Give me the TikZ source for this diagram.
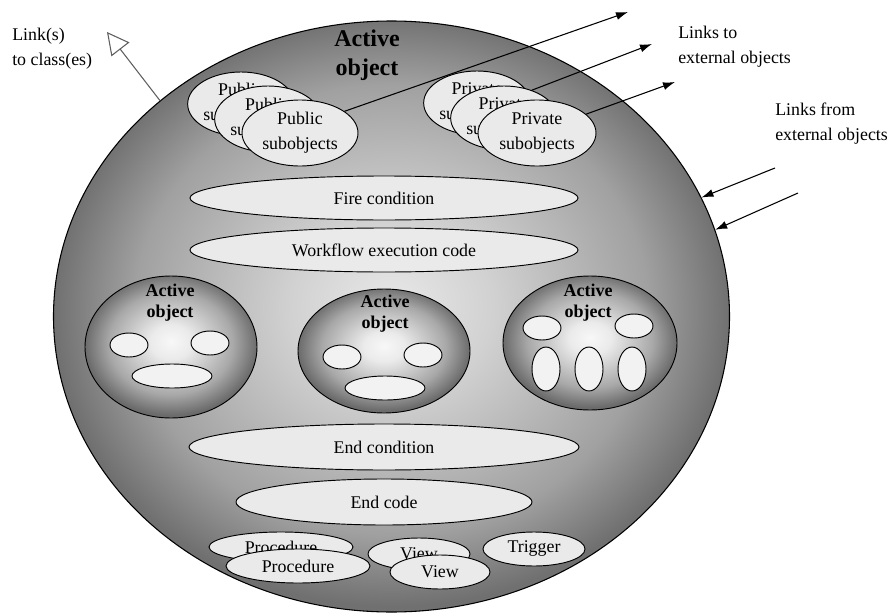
\documentclass[tikz,border=0pt]{standalone}
\usepackage{fontspec}
\setmainfont{Liberation Serif}
\usetikzlibrary{shapes.geometric,arrows.meta}

\definecolor{blobfill}{RGB}{234,234,234}
\definecolor{spotfill}{RGB}{242,242,242}
\definecolor{linkgray}{RGB}{95,95,95}

\pgfdeclareradialshading{outerglow}{\pgfpoint{0bp}{1bp}}{color(0bp)=(black!9); color(7.5bp)=(black!18); color(19bp)=(black!37); color(25bp)=(black!56); color(50bp)=(black!56)}
\pgfdeclareradialshading{innerglow}{\pgfpoint{0bp}{2bp}}{color(0bp)=(black!3); color(6bp)=(black!8); color(18bp)=(black!34); color(25bp)=(black!58); color(50bp)=(black!58)}

\tikzset{
  wx/.style={minimum width=#1*1.5pt},
  wy/.style={minimum height=#1*1.5pt},
  blob/.style={draw, ellipse, fill=blobfill, line width=0.7pt, inner sep=0pt, align=center},
  spot/.style={draw, ellipse, fill=spotfill, line width=0.7pt, inner sep=0pt},
  actobj/.style={draw, ellipse, shading=innerglow, line width=0.7pt, inner sep=0pt},
  acttitle/.style={font=\rmfamily\fontsize{13.5}{15.75}\selectfont\bfseries, align=center, inner sep=0pt},
  lbl/.style={align=left, inner sep=0pt},
  extlink/.style={line width=0.8pt, -{Latex[length=9pt,width=6pt]}},
  classlink/.style={draw=linkgray, line width=0.8pt, -{Triangle[length=16.5pt,width=17pt,fill=white]}}
}

\begin{document}
\begin{tikzpicture}[x=0.75pt,y=0.75pt,yscale=-1,xscale=1,font=\rmfamily\fontsize{13.4}{18.75}\selectfont]
\useasboundingbox (0,0) rectangle (896,614);

%Shape: Ellipse [outer active object]
\node[draw, ellipse, shading=outerglow, line width=0.8pt, inner sep=0pt, wx=338, wy=295.5] (big) at (391.5,316.5) {};
% Text Node
\node[font=\rmfamily\fontsize{18}{21.75}\selectfont\bfseries, align=center, inner sep=0pt] (title) at (367,55) {Active\\object};

%Shape: Ellipse [public subobjects]
\node[blob, wx=53, wy=32] (pubA) at (241,104) {Public\\subobjects};
\node[blob, wx=53, wy=33] (pubB) at (268,119) {Public\\subobjects};
\node[blob, wx=58, wy=33] (pubC) at (300,133) {Public\\subobjects};
%Shape: Ellipse [private subobjects]
\node[blob, wx=52, wy=32] (privA) at (477,103) {Private\\subobjects};
\node[blob, wx=52, wy=32] (privB) at (504,118) {Private\\subobjects};
\node[blob, wx=59, wy=33] (privC) at (537,133) {Private\\subobjects};

%Shape: Ellipse [code parts]
\node[blob, wx=194, wy=22] (fire) at (384,198) {Fire condition};
\node[blob, wx=194, wy=22] (exec) at (384,250) {Workflow execution code};
\node[blob, wx=195, wy=23] (endcond) at (384,447) {End condition};
\node[blob, wx=148, wy=23] (endcode) at (384,502) {End code};

%Shape: Ellipse [left active object]
\node[actobj, wx=86, wy=71] (actL) at (171,347) {};
\node[acttitle] (actLtitle) at (170,302.5) {Active\\object};
\node[spot, wx=19, wy=12] (actLa) at (129,345) {};
\node[spot, wx=19, wy=12] (actLb) at (210,343) {};
\node[spot, wx=40, wy=12] (actLc) at (172,376) {};

%Shape: Ellipse [middle active object]
\node[actobj, wx=86, wy=62] (actM) at (384,351) {};
\node[acttitle] (actMtitle) at (385,314) {Active\\object};
\node[spot, wx=19, wy=12] (actMa) at (342,357) {};
\node[spot, wx=19, wy=12] (actMb) at (423,355) {};
\node[spot, wx=40, wy=12] (actMc) at (385,388) {};

%Shape: Ellipse [right active object]
\node[actobj, wx=87, wy=67] (actR) at (590,343) {};
\node[acttitle] (actRtitle) at (588,302.5) {Active\\object};
\node[spot, wx=19, wy=12] (actRa) at (542,328) {};
\node[spot, wx=19, wy=12] (actRb) at (634,326) {};
\node[spot, wx=14, wy=22] (actRc) at (546,369) {};
\node[spot, wx=14, wy=22] (actRd) at (589,369) {};
\node[spot, wx=14, wy=22] (actRe) at (632,369) {};

%Shape: Ellipse [procedures, views, trigger]
\node[blob, wx=72, wy=15] (procA) at (281,547) {Procedure};
\node[blob, wx=72, wy=17] (procB) at (298,566) {Procedure};
\node[blob, wx=51, wy=16] (viewA) at (419,554) {View};
\node[blob, wx=50, wy=17] (viewB) at (440,572) {View};
\node[blob, wx=51, wy=17] (trig) at (534,549) {Trigger};

%Straight Lines [links to external objects]
\coordinate (out1) at (628,12);
\coordinate (out2) at (652,44);
\coordinate (out3) at (675,82);
\draw[extlink] (pubC.26) -- (out1);
\draw[extlink] (privB.45) -- (out2);
\draw[extlink] (privC.21) -- (out3);
%Straight Lines [links from external objects]
\coordinate (in1) at (775,168);
\coordinate (in2) at (798,193);
\draw[extlink] (in1) -- (big.21);
\draw[extlink] (in2) -- (big.15);
%Straight Lines [link to class]
\coordinate (cls) at (107,32);
\draw[classlink] (big.137) -- (cls);

% Text Node
\node[lbl, anchor=west] (clsLabel) at (12,48.5) {Link(s)\\to class(es)};
% Text Node
\node[lbl, anchor=west] (outLabel) at (678,46.5) {Links to\\external objects};
% Text Node
\node[lbl, anchor=west] (inLabel) at (775,124) {Links from\\external objects};

\end{tikzpicture}
\end{document}
